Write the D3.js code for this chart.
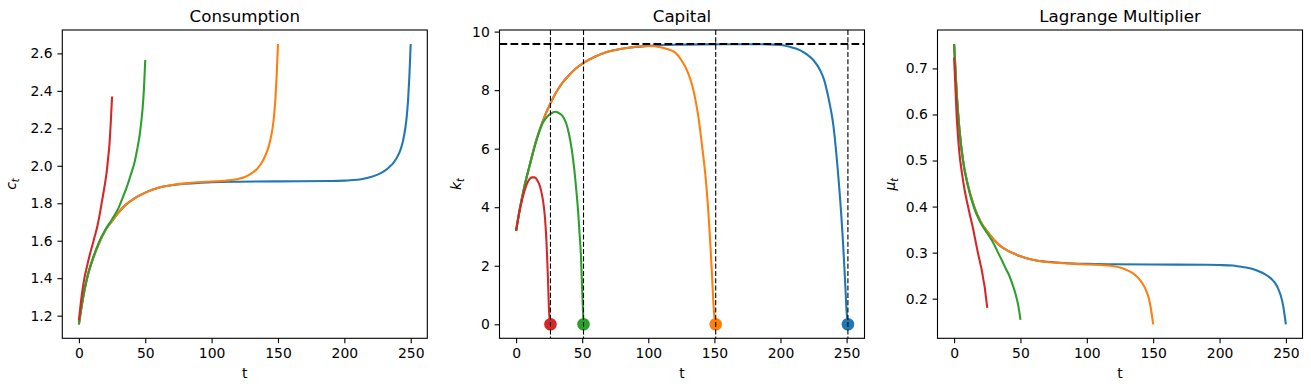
<!DOCTYPE html>
<html>
<head>
<meta charset="utf-8">
<script src="https://cdn.jsdelivr.net/npm/d3@7"></script>
<style>
body{margin:0;background:#fff;}
svg text{font-family:"DejaVu Sans";}
</style>
</head>
<body>
<svg id="chart" width="1311" height="391"></svg>
<script>
// ---------------- DATA ----------------
const horizons = [250, 150, 50, 25];
const colors = ["#1f77b4", "#ff7f0e", "#2ca02c", "#d62728"];
const titles = ["Consumption", "Capital", "Lagrange Multiplier"];
const ySymbols = ["c", "k", "μ"];
const xTicks = [0, 50, 100, 150, 200, 250];
const yTicksC = [1.2, 1.4, 1.6, 1.8, 2.0, 2.2, 2.4, 2.6];
const yTicksK = [0, 2, 4, 6, 8, 10];
const yTicksMu = [0.2, 0.3, 0.4, 0.5, 0.6, 0.7];

// consumption / multiplier sample times
const tC250 = [0,2,4,7,10,15,20,25,30,35,40,45,50,60,70,80,90,100,120,150,190,200,210,215,220,225,230,234,237,240,242,244,245,246,247,248,249,250];
const c250  = [1.154,1.247,1.328,1.424,1.491,1.584,1.656,1.705,1.752,1.79,1.817,1.839,1.857,1.883,1.896,1.904,1.909,1.912,1.915,1.917,1.919,1.921,1.925,1.932,1.94,1.953,1.972,1.994,2.016,2.049,2.08,2.127,2.162,2.203,2.262,2.349,2.479,2.65];
const mu250 = [0.753,0.645,0.569,0.495,0.452,0.401,0.367,0.346,0.328,0.314,0.305,0.298,0.292,0.284,0.280,0.278,0.2764,0.2755,0.2747,0.2741,0.2735,0.273,0.2719,0.2699,0.2677,0.2642,0.2591,0.2535,0.248,0.2402,0.2331,0.223,0.2159,0.208,0.1974,0.1832,0.1647,0.1444];

const tC150 = [0,2,4,7,10,15,20,25,30,35,40,45,50,60,70,80,90,100,110,115,120,125,130,134,137,140,142,144,145,146,147,148,149,150];
const c150  = [1.154,1.247,1.328,1.424,1.491,1.584,1.656,1.705,1.752,1.79,1.817,1.839,1.857,1.883,1.897,1.906,1.912,1.916,1.92,1.924,1.93,1.94,1.96,1.982,2.008,2.047,2.082,2.13,2.164,2.205,2.264,2.35,2.48,2.65];
const mu150 = [0.753,0.645,0.569,0.495,0.452,0.401,0.367,0.346,0.328,0.314,0.305,0.298,0.292,0.284,0.2796,0.2773,0.2755,0.2744,0.2733,0.2721,0.2705,0.2677,0.2623,0.2566,0.25,0.2407,0.2327,0.2224,0.2155,0.2077,0.1971,0.1831,0.1646,0.1444];

const tC50 = [0,2,4,7,10,15,20,25,30,33,36,39,42,44,46,47,48,49,50];
const c50  = [1.154,1.25,1.33,1.425,1.495,1.59,1.66,1.715,1.777,1.83,1.885,1.95,2.02,2.09,2.175,2.235,2.305,2.41,2.565];
const mu50 = [0.753,0.642,0.5673,0.4945,0.4494,0.3976,0.3649,0.342,0.3187,0.3006,0.2834,0.265,0.2471,0.2309,0.2134,0.2022,0.1902,0.1742,0.154];

const tC25 = [0,2,4,6,8,10,12,14,16,18,20,21,22,23,24,25];
const c25  = [1.175,1.30,1.395,1.46,1.52,1.572,1.625,1.68,1.753,1.835,1.92,1.97,2.04,2.11,2.23,2.37];
const mu25 = [0.724,0.5937,0.5159,0.4711,0.4348,0.4067,0.3807,0.3563,0.3274,0.299,0.2733,0.2597,0.2423,0.2266,0.2031,0.180];

// capital sample times
const tK250 = [0,3,6,10,15,20,26,30,35,40,45,51,60,67,75,85,100,120,140,170,190,200,207,215,220,225,230,233,236,238,239,240,241,242,243,244,245,246,247,248,249,250,251];
const k250  = [3.19,3.98,4.65,5.38,6.25,6.92,7.55,7.9,8.25,8.51,8.73,8.93,9.15,9.28,9.37,9.45,9.51,9.55,9.565,9.57,9.565,9.545,9.48,9.36,9.22,9.02,8.68,8.35,7.8,7.35,7.1,6.8,6.4,5.95,5.45,4.92,4.35,3.72,3.02,2.22,1.35,0.45,0];

const tK150 = [0,3,6,10,15,20,26,30,35,40,45,51,60,67,75,85,95,100,105,110,115,120,125,130,133,136,138,139,140,141,142,143,144,145,146,147,148,149,150,151];
const k150  = [3.19,3.98,4.65,5.38,6.25,6.92,7.55,7.9,8.25,8.51,8.73,8.93,9.15,9.28,9.37,9.45,9.5,9.51,9.5,9.46,9.4,9.3,9.03,8.6,8.2,7.6,7.05,6.72,6.35,5.98,5.6,5.18,4.7,4.12,3.45,2.7,1.85,0.95,0.25,0];

const tK50 = [0,3,6,10,15,20,24,27,30,33,36,38,40,42,43,44,45,46,47,48,49,50,51];
const k50  = [3.19,3.98,4.65,5.38,6.22,6.87,7.12,7.22,7.26,7.2,7.06,6.85,6.5,6.0,5.68,5.3,4.85,4.36,3.8,3.1,2.4,1.15,0];

const tK25 = [0,2,4,6,8,10,12,14,16,18,19,20,21,22,23,24,25,26];
const k25  = [3.19,3.72,4.15,4.5,4.78,4.95,5.02,5.02,4.92,4.72,4.55,4.33,4.02,3.55,2.8,1.7,0.4,0];

const endDotsT = [251, 151, 51, 26];
const kSteady = 9.576;

// ---------------- LAYOUT ----------------
const svg = d3.select("#chart");
const TOP = 30, BOTTOM = 338.3, PW = 365;
const FS = 13.9;
const lefts = [62.3, 499.5, 937.5];
const ylabX = [16, 461, 895];

function zipPts(ts, vs){ return ts.map((t,i)=>[t, vs[i]]); }
const seriesC  = [zipPts(tC250,c250), zipPts(tC150,c150), zipPts(tC50,c50), zipPts(tC25,c25)];
const seriesK  = [zipPts(tK250,k250), zipPts(tK150,k150), zipPts(tK50,k50), zipPts(tK25,k25)];
const seriesMu = [zipPts(tC250,mu250), zipPts(tC150,mu150), zipPts(tC50,mu50), zipPts(tC25,mu25)];

function padded(lo, hi){ const m = (hi-lo)*0.05; return [lo-m, hi+m]; }

function panel(i, series, yTicks, fmt, extra){
  const left = lefts[i];
  const all = series.flat();
  let ymin = d3.min(all, d=>d[1]), ymax = d3.max(all, d=>d[1]);
  let xmax = d3.max(all, d=>d[0]);
  if (extra) { ymax = Math.max(ymax, extra.hline); xmax = Math.max(xmax, d3.max(extra.dots)); }
  const x = d3.scaleLinear().domain(padded(0, xmax)).range([left, left+PW]);
  const y = d3.scaleLinear().domain(padded(ymin, ymax)).range([BOTTOM, TOP]);
  const g = svg.append("g");

  const line = d3.line().x(d=>x(d[0])).y(d=>y(d[1])).curve(d3.curveMonotoneX);

  if (extra) {
    // scatter dots lie beneath all lines (matplotlib zorder)
    g.selectAll("circle.end").data(extra.dots).join("circle")
      .attr("cx", d=>x(d)).attr("cy", y(0)).attr("r", 6.3)
      .attr("fill", (d,j)=>colors[j]);
  }
  series.forEach((s, j)=>{
    g.append("path").datum(s).attr("d", line)
      .attr("fill","none").attr("stroke", colors[j]).attr("stroke-width", 2.08)
      .attr("stroke-linejoin","round").attr("stroke-linecap","butt");
    if (extra) {
      g.append("line").attr("x1", x(extra.dots[j])).attr("x2", x(extra.dots[j]))
        .attr("y1", TOP).attr("y2", BOTTOM)
        .attr("stroke","#000").attr("stroke-width",1.1).attr("stroke-dasharray","5.1,2.2");
    }
  });
  if (extra) {
    g.append("line").attr("x1", left).attr("x2", left+PW)
      .attr("y1", y(extra.hline)).attr("y2", y(extra.hline))
      .attr("stroke","#000").attr("stroke-width",1.9).attr("stroke-dasharray","7.7,3.3");
  }

  // axes
  const ax = g.append("g").attr("transform",`translate(0,${BOTTOM})`)
    .call(d3.axisBottom(x).tickValues(xTicks).tickSize(4.86).tickPadding(4.86).tickFormat(d3.format("d")));
  const ay = g.append("g").attr("transform",`translate(${left},0)`)
    .call(d3.axisLeft(y).tickValues(yTicks).tickSize(4.86).tickPadding(4.86).tickFormat(d3.format(fmt)));
  [ax, ay].forEach(a=>{
    a.select(".domain").remove();
    a.attr("font-family","DejaVu Sans").attr("font-size", FS).attr("color","#000");
    a.selectAll(".tick line").attr("stroke-width",1.1);
  });

  // frame
  g.append("rect").attr("x", left).attr("y", TOP).attr("width", PW).attr("height", BOTTOM-TOP)
    .attr("fill","none").attr("stroke","#000").attr("stroke-width",1.1);

  // title
  g.append("text").attr("x", left+PW/2).attr("y", 21.7).attr("text-anchor","middle")
    .style("font-size","16.7px").attr("fill","#000").text(titles[i]);
  // x label
  g.append("text").attr("x", left+PW/2).attr("y", 377.6).attr("text-anchor","middle")
    .style("font-size", FS+"px").attr("fill","#000").text("t");
  // y label (math style)
  const yl = g.append("text").attr("transform",`translate(${ylabX[i]},${(TOP+BOTTOM)/2}) rotate(-90)`)
    .attr("text-anchor","middle").style("font-size", FS+"px").attr("fill","#000");
  yl.append("tspan").style("font-style","italic").text(ySymbols[i]);
  yl.append("tspan").style("font-style","italic").style("font-size","9.7px").attr("dy",3).text("t");
}

panel(0, seriesC, yTicksC, ".1f", null);
panel(1, seriesK, yTicksK, "d", {dots: endDotsT, hline: kSteady});
panel(2, seriesMu, yTicksMu, ".1f", null);
</script>
</body>
</html>
